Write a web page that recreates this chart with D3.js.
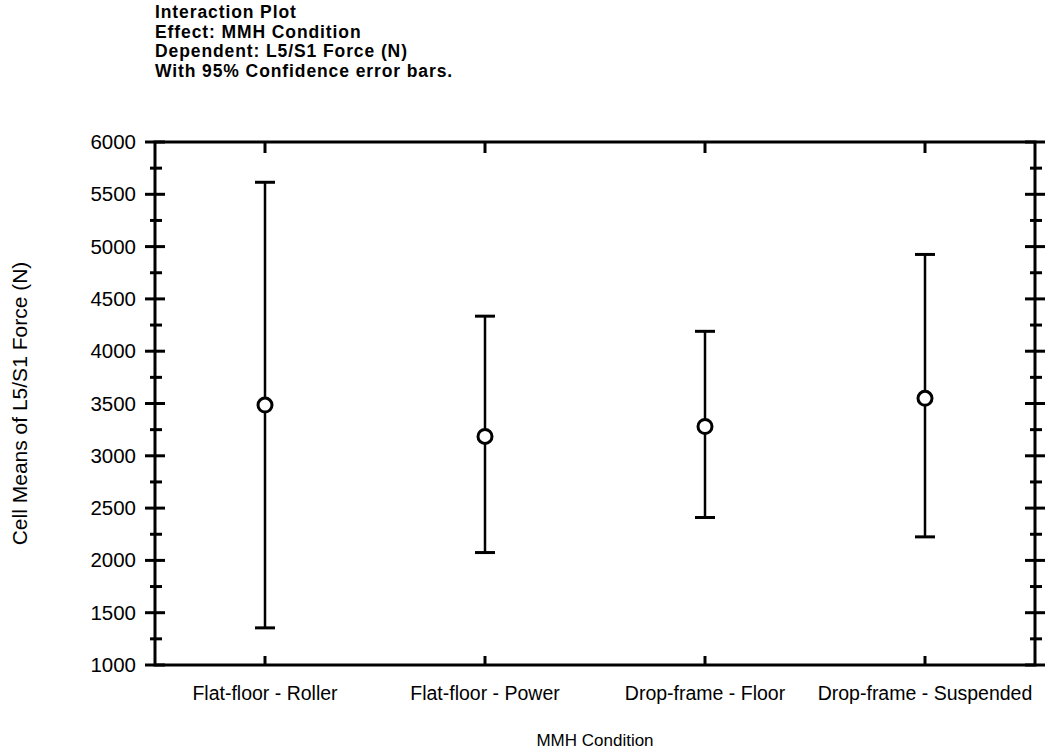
<!DOCTYPE html>
<html>
  <head>
    <meta charset="utf-8">
    <script src="https://d3js.org/d3.v7.min.js"></script>
    <style>
      body { margin: 0; background: #fff; }
      svg { font-family: "Liberation Sans", Arial, sans-serif; }
      .title { font-weight: bold; font-size: 17.5px; letter-spacing: 0.9px; }
      .lbl { font-size: 19.5px; }
      .tick-lbl { font-size: 20.5px; }
    </style>
  </head>
  <body>
    <script>
      // values
      const conditions = ["Flat-floor - Roller", "Flat-floor - Power", "Drop-frame - Floor", "Drop-frame - Suspended"]
      const means = [3485, 3185, 3280, 3550]
      const lower = [1355, 2075, 2410, 2225]
      const upper = [5615, 4335, 4190, 4925]
      const titleLines = ["Interaction Plot", "Effect: MMH Condition", "Dependent: L5/S1 Force (N)", "With 95% Confidence error bars."]
      const yTicks = [1000, 1500, 2000, 2500, 3000, 3500, 4000, 4500, 5000, 5500, 6000]

      const w = 1046, h = 753
      const plotL = 155, plotR = 1035, plotT = 142, plotB = 665

      const svg = d3.select("body").append("svg")
        .attr("width", w)
        .attr("height", h)

      const x = d3.scaleBand()
        .domain(conditions)
        .range([plotL, plotR])
      const y = d3.scaleLinear()
        .domain([1000, 6000])
        .range([plotB, plotT])

      svg.selectAll(".title")
        .data(titleLines)
        .enter()
        .append("text")
          .attr("class", "title")
          .attr("x", 155)
          .attr("y", (d, i) => 18 + i * 19.7)
          .text(d => d)

      const minor = d3.range(1250, 6000, 500)

      // frame
      svg.append("rect")
        .attr("x", plotL).attr("y", plotT)
        .attr("width", plotR - plotL).attr("height", plotB - plotT)
        .attr("fill", "none").attr("stroke", "#000").attr("stroke-width", 3)

      // left axis labels
      const yAxisL = d3.axisLeft(y).tickValues(yTicks).tickFormat(d3.format("d")).tickSize(0).tickPadding(19)
      const gl = svg.append("g").attr("transform", "translate(" + plotL + ",0)").call(yAxisL)
      gl.select(".domain").remove()
      gl.selectAll("text").attr("class", "tick-lbl").attr("fill", "#000")

      // y ticks on both sides, crossing the axis
      ;[plotL, plotR].forEach(ax => {
        svg.selectAll(null).data(yTicks).enter().append("line")
          .attr("x1", ax - 10).attr("x2", ax + 10)
          .attr("y1", d => y(d)).attr("y2", d => y(d))
          .attr("stroke", "#000").attr("stroke-width", 3)
        svg.selectAll(null).data(minor).enter().append("line")
          .attr("x1", ax - 5).attr("x2", ax + 7)
          .attr("y1", d => y(d)).attr("y2", d => y(d))
          .attr("stroke", "#000").attr("stroke-width", 3)
      })

      // category ticks top and bottom
      const cx = d => x(d) + x.bandwidth() / 2
      svg.selectAll(null).data(conditions).enter().append("line")
        .attr("x1", cx).attr("x2", cx)
        .attr("y1", plotT).attr("y2", plotT + 11)
        .attr("stroke", "#000").attr("stroke-width", 3)
      svg.selectAll(null).data(conditions).enter().append("line")
        .attr("x1", cx).attr("x2", cx)
        .attr("y1", plotB).attr("y2", plotB - 9)
        .attr("stroke", "#000").attr("stroke-width", 3)

      const xAxis = d3.axisBottom(x).tickSize(0).tickPadding(21)
      const gb = svg.append("g").attr("transform", "translate(0," + plotB + ")").call(xAxis)
      gb.select(".domain").remove()
      gb.selectAll("text").attr("class", "lbl").attr("fill", "#000")

      // error bars
      const bars = svg.selectAll(".bar")
        .data(conditions)
        .enter()
        .append("g")
          .attr("class", "bar")
      bars.append("line")
        .attr("x1", cx).attr("x2", cx)
        .attr("y1", (d, i) => y(lower[i])).attr("y2", (d, i) => y(upper[i]))
        .attr("stroke", "#000").attr("stroke-width", 2.5)
      bars.append("line")
        .attr("x1", d => cx(d) - 10).attr("x2", d => cx(d) + 10)
        .attr("y1", (d, i) => y(upper[i])).attr("y2", (d, i) => y(upper[i]))
        .attr("stroke", "#000").attr("stroke-width", 3)
      bars.append("line")
        .attr("x1", d => cx(d) - 10).attr("x2", d => cx(d) + 10)
        .attr("y1", (d, i) => y(lower[i])).attr("y2", (d, i) => y(lower[i]))
        .attr("stroke", "#000").attr("stroke-width", 3)
      bars.append("circle")
        .attr("cx", cx)
        .attr("cy", (d, i) => y(means[i]))
        .attr("r", 7)
        .attr("fill", "#fff").attr("stroke", "#000").attr("stroke-width", 3)

      // axis titles
      svg.append("text")
        .attr("class", "lbl")
        .style("font-size", "17px")
        .attr("x", (plotL + plotR) / 2)
        .attr("y", 746)
        .attr("text-anchor", "middle")
        .text("MMH Condition")
      svg.append("text")
        .attr("class", "lbl")
        .style("font-size", "21px")
        .attr("transform", "translate(27," + ((plotT + plotB) / 2) + ") rotate(-90)")
        .attr("text-anchor", "middle")
        .text("Cell Means of L5/S1 Force (N)")
    </script>
  </body>
</html>
